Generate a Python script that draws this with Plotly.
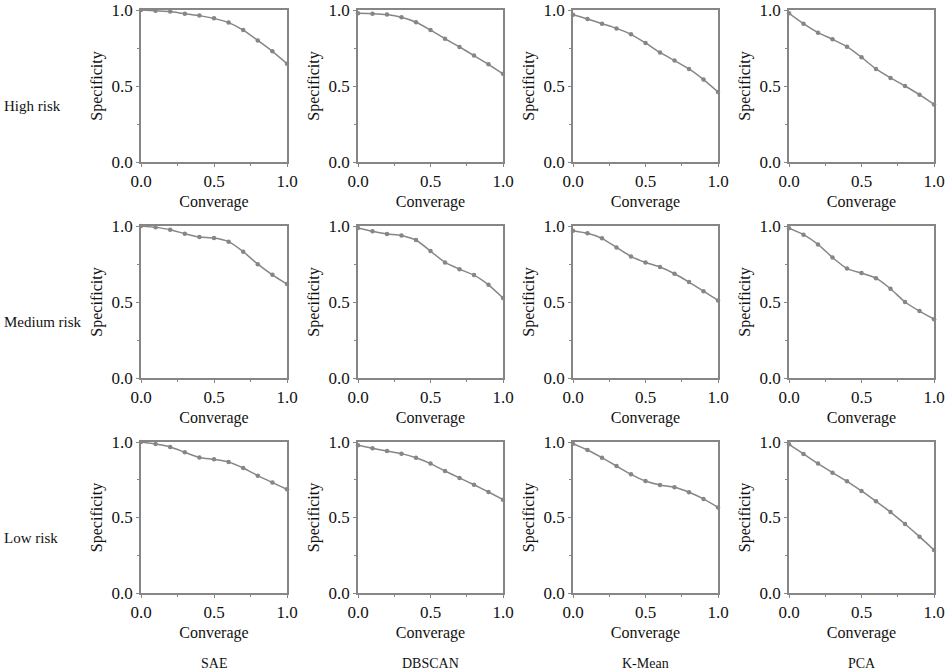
import plotly.graph_objects as go

# coverage levels shared by all panels
coverage = [0.0, 0.1, 0.2, 0.3, 0.4, 0.5, 0.6, 0.7, 0.8, 0.9, 1.0]

methods = ["SAE", "DBSCAN", "K-Mean", "PCA"]
risks = ["High risk", "Medium risk", "Low risk"]

# specificity, one list per panel
sae_high = [1.0, 0.995, 0.99, 0.975, 0.963, 0.945, 0.917, 0.868, 0.80, 0.728, 0.647]
dbscan_high = [0.978, 0.976, 0.97, 0.952, 0.919, 0.868, 0.811, 0.757, 0.70, 0.643, 0.58]
kmean_high = [0.969, 0.941, 0.91, 0.879, 0.84, 0.783, 0.721, 0.667, 0.612, 0.542, 0.461]
pca_high = [0.978, 0.91, 0.851, 0.807, 0.759, 0.689, 0.612, 0.553, 0.50, 0.443, 0.379]

sae_medium = [1.0, 0.991, 0.976, 0.949, 0.927, 0.921, 0.897, 0.831, 0.749, 0.679, 0.618]
dbscan_medium = [0.987, 0.965, 0.947, 0.938, 0.908, 0.835, 0.76, 0.716, 0.677, 0.613, 0.527]
kmean_medium = [0.969, 0.952, 0.919, 0.859, 0.80, 0.76, 0.73, 0.686, 0.631, 0.571, 0.51]
pca_medium = [0.985, 0.943, 0.879, 0.793, 0.72, 0.69, 0.657, 0.587, 0.50, 0.44, 0.387]

sae_low = [1.0, 0.987, 0.967, 0.932, 0.898, 0.885, 0.868, 0.828, 0.777, 0.731, 0.687]
dbscan_low = [0.978, 0.958, 0.94, 0.923, 0.896, 0.857, 0.808, 0.762, 0.717, 0.669, 0.618]
kmean_low = [0.989, 0.947, 0.896, 0.841, 0.786, 0.742, 0.715, 0.70, 0.667, 0.623, 0.567]
pca_low = [0.985, 0.921, 0.857, 0.797, 0.74, 0.676, 0.607, 0.536, 0.457, 0.373, 0.285]

panels = [
    [sae_high, dbscan_high, kmean_high, pca_high],
    [sae_medium, dbscan_medium, kmean_medium, pca_medium],
    [sae_low, dbscan_low, kmean_low, pca_low],
]

W, H = 948, 672
FONT = "Liberation Serif, Times New Roman, serif"
GRAY = "#868686"

# plot-area boxes in pixels
col_px = [(141, 287), (358, 503), (573, 718), (789, 934)]
row_px = [(10, 162), (226, 378), (442, 593)]

fig = go.Figure()
layout_axes = {}
annotations = []

n = 0
for r in range(3):
    for c in range(4):
        n += 1
        xa = "x" if n == 1 else f"x{n}"
        ya = "y" if n == 1 else f"y{n}"
        fig.add_trace(go.Scatter(
            x=coverage, y=panels[r][c], xaxis=xa, yaxis=ya,
            mode="lines+markers",
            line=dict(color=GRAY, width=1.5, shape="spline", smoothing=0.5),
            marker=dict(color=GRAY, size=4.5),
            cliponaxis=False, showlegend=False,
        ))
        x0, x1 = col_px[c]
        y0, y1 = row_px[r]
        common = dict(
            range=[0, 1], dtick=0.5, tickformat=".1f",
            showline=True, mirror=True, linecolor=GRAY, linewidth=1.5,
            ticks="outside", ticklen=3, tickcolor=GRAY, tickwidth=1,
            minor=dict(dtick=0.25, ticks="outside", ticklen=2, tickcolor=GRAY),
            showgrid=False, zeroline=False, automargin=False,
            ticklabeloverflow="allow",
            tickfont=dict(family=FONT, size=17, color="#111"),
            title_font=dict(family=FONT, size=16, color="#111"),
            fixedrange=True,
        )
        layout_axes["xaxis" if n == 1 else f"xaxis{n}"] = dict(
            common, domain=[x0 / W, x1 / W], anchor=ya,
            title=dict(text="Converage", standoff=6),
        )
        layout_axes["yaxis" if n == 1 else f"yaxis{n}"] = dict(
            common, domain=[1 - y1 / H, 1 - y0 / H], anchor=xa,
            title=dict(text="Specificity", standoff=5),
        )

# row labels on the left
for r, label in enumerate(risks):
    yc = (row_px[r][0] + row_px[r][1]) / 2 + 20
    annotations.append(dict(
        text=label, x=2 / W, y=1 - yc / H, xref="paper", yref="paper",
        xanchor="left", yanchor="middle", showarrow=False,
        font=dict(family=FONT, size=15, color="#111"),
    ))

# method labels under the columns
for c, label in enumerate(methods):
    xc = (col_px[c][0] + col_px[c][1]) / 2
    annotations.append(dict(
        text=label, x=xc / W, y=1 - 663 / H, xref="paper", yref="paper",
        xanchor="center", yanchor="middle", showarrow=False,
        font=dict(family=FONT, size=14, color="#111"),
    ))

fig.update_layout(
    width=W, height=H,
    margin=dict(l=0, r=0, t=0, b=0),
    paper_bgcolor="white", plot_bgcolor="white",
    annotations=annotations,
    **layout_axes,
)

# drop the page's default 8px body margin so the figure sits at the window corner
fig.write_html(
    "out.html",
    config={"displayModeBar": False},
    post_script="document.body.style.margin = '0';",
)
